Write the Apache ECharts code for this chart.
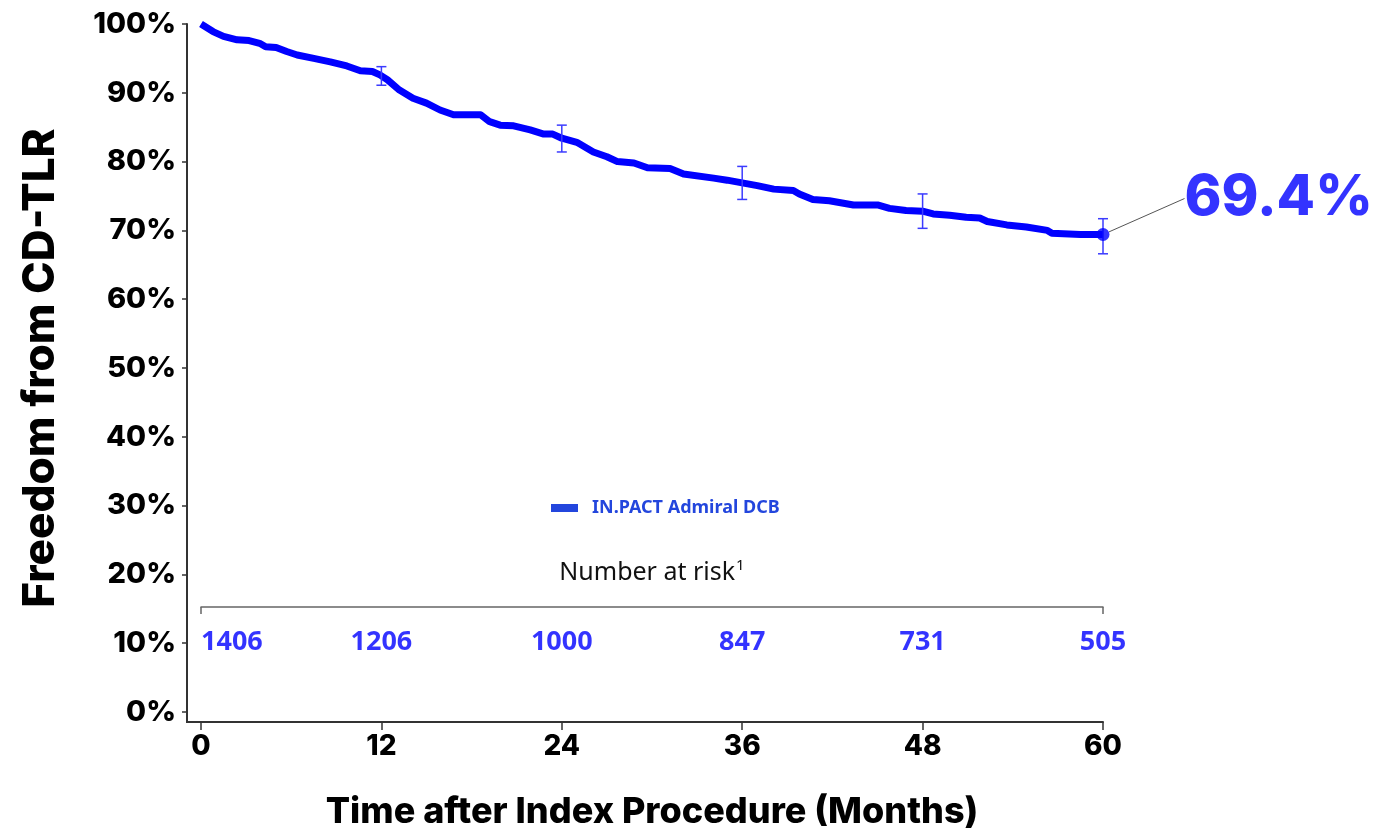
<!DOCTYPE html>
<html>
<head>
<meta charset="utf-8">
<title>Freedom from CD-TLR</title>
<script src="https://cdn.jsdelivr.net/npm/echarts@6/dist/echarts.min.js"></script>
<style>
  html, body { margin: 0; padding: 0; background: #ffffff; }
  #chart { width: 1379px; height: 832px; }
</style>
</head>
<body>
<div id="chart"></div>
<script>
// Kaplan-Meier estimate: months after procedure and freedom from CD-TLR (%)
const kmMonths = [0, 0.8, 1.5, 2.4, 3.2, 3.9, 4.3, 5.0, 5.7, 6.4, 7.5, 8.6, 9.7, 10.6, 11.4, 11.9,
  12.4, 13.2, 14.1, 15.0, 15.9, 16.8, 18.6, 19.2, 19.9, 20.8, 21.9, 22.8, 23.4, 24.0, 25.0, 26.1,
  27.0, 27.7, 28.8, 29.7, 31.2, 32.1, 34.1, 35.0, 36.0, 37.0, 38.1, 39.4, 39.8, 40.7, 41.8,
  43.4, 45.0, 45.8, 46.9, 48.0, 48.7, 49.8, 50.9, 51.8, 52.3, 53.6, 54.9, 56.3, 56.6, 58.5, 60];
const kmSurvival = [100, 98.9, 98.2, 97.7, 97.6, 97.2, 96.7, 96.6, 96.0, 95.5, 95.0, 94.5, 93.9, 93.2, 93.1, 92.6,
  91.9, 90.4, 89.2, 88.5, 87.5, 86.8, 86.8, 85.8, 85.3, 85.2, 84.6, 84.0, 84.0, 83.4, 82.8, 81.4,
  80.7, 80.0, 79.8, 79.1, 79.0, 78.2, 77.6, 77.3, 76.9, 76.5, 76.0, 75.8, 75.3, 74.5, 74.3,
  73.7, 73.7, 73.2, 72.9, 72.8, 72.4, 72.2, 71.9, 71.8, 71.3, 70.8, 70.5, 70.0, 69.6, 69.4, 69.4];

// 95% confidence interval at the yearly landmarks
const ciMonths = [12, 24, 36, 48, 60];
const ciLower = [91.1, 81.4, 74.5, 70.3, 66.6];
const ciUpper = [93.8, 85.3, 79.3, 75.3, 71.7];

// Five-year estimate
const finalMonth = 60;
const finalEstimate = 69.4;

// Number at risk
const riskMonths = [0, 12, 24, 36, 48, 60];
const riskCounts = [1406, 1206, 1000, 847, 731, 505];

const seriesName = 'IN.PACT Admiral DCB';
const blue = '#0000ff';
const axisColor = '#333333';
const titleFont = 'Inter, "DejaVu Sans", sans-serif';
const bodyFont = '"Noto Sans", "Open Sans", sans-serif';

const chart = echarts.init(document.getElementById('chart'), null, { renderer: 'canvas' });

const kmData = kmMonths.map((m, i) => [m, kmSurvival[i]]);
const ciData = ciMonths.map((m, i) => [m, ciLower[i], ciUpper[i]]);
const riskData = riskMonths.map((m, i) => ({
  value: [m, 0.5, riskCounts[i]],
  label: i === 0 ? { align: 'left' } : undefined
}));

const X_AXIS_OFFSET = 10;
const Y_AXIS_OFFSET = 14;

const option = {
  backgroundColor: '#ffffff',
  animation: false,
  legend: {
    data: [{ name: seriesName, itemStyle: { color: '#2346dd' } }],
    icon: 'rect',
    itemWidth: 27,
    itemHeight: 8,
    left: 551,
    top: 499,
    padding: 0,
    textStyle: {
      color: '#2346dd',
      fontFamily: bodyFont,
      fontWeight: 'bold',
      fontSize: 18,
      padding: [0, 0, 0, 9]
    }
  },
  grid: [
    { left: 201, right: 276, top: 24, bottom: 120, outerBoundsMode: 'none', containLabel: false },
    { left: 201, right: 276, top: 607, height: 70, outerBoundsMode: 'none', containLabel: false }
  ],
  xAxis: [
    {
      type: 'value',
      gridIndex: 0,
      min: 0,
      max: 60,
      interval: 12,
      offset: X_AXIS_OFFSET,
      axisLine: { show: true, onZero: false, lineStyle: { color: axisColor, width: 2 } },
      axisTick: { show: true, length: 8, lineStyle: { color: axisColor, width: 1.5 } },
      axisLabel: {
        margin: 11,
        color: '#000000',
        fontFamily: titleFont,
        fontWeight: 800,
        fontSize: 28
      },
      splitLine: { show: false },
      name: 'Time after Index Procedure (Months)',
      nameLocation: 'middle',
      nameGap: 72,
      nameTextStyle: {
        color: '#000000',
        fontFamily: titleFont,
        fontWeight: 800,
        fontSize: 36
      }
    },
    {
      type: 'value',
      gridIndex: 1,
      position: 'top',
      min: 0,
      max: 60,
      interval: 60,
      axisLine: { show: true, onZero: false, lineStyle: { color: '#666666', width: 1.5 } },
      axisTick: { show: true, inside: true, length: 7, lineStyle: { color: '#666666', width: 1.5 } },
      axisLabel: { show: false },
      splitLine: { show: false },
      name: 'Number at risk{sup|1}',
      nameLocation: 'middle',
      nameGap: 20,
      nameTextStyle: {
        color: '#111111',
        fontFamily: bodyFont,
        fontSize: 25,
        rich: {
          sup: { fontFamily: bodyFont, fontSize: 15, color: '#111111', verticalAlign: 'top', padding: [0, 0, 14, 1] }
        }
      }
    }
  ],
  yAxis: [
    {
      type: 'value',
      gridIndex: 0,
      min: 0,
      max: 100,
      interval: 10,
      offset: Y_AXIS_OFFSET,
      axisLine: { show: true, onZero: false, lineStyle: { color: axisColor, width: 2 } },
      axisTick: { show: true, length: 5, lineStyle: { color: axisColor, width: 1.5 } },
      axisLabel: {
        formatter: '{value}%',
        margin: 11,
        color: '#000000',
        fontFamily: titleFont,
        fontWeight: 800,
        fontSize: 29
      },
      splitLine: { show: false },
      name: 'Freedom from CD-TLR',
      nameLocation: 'middle',
      nameGap: 124,
      nameTextStyle: {
        color: '#000000',
        fontFamily: titleFont,
        fontWeight: 800,
        fontSize: 44
      }
    },
    { type: 'value', gridIndex: 1, min: 0, max: 1, show: false }
  ],
  series: [
    {
      name: seriesName,
      type: 'line',
      xAxisIndex: 0,
      yAxisIndex: 0,
      data: kmData,
      showSymbol: false,
      symbol: 'none',
      itemStyle: { color: blue },
      lineStyle: { color: blue, width: 7, cap: 'butt', join: 'round' },
      z: 3
    },
    {
      name: 'CI',
      type: 'custom',
      xAxisIndex: 0,
      yAxisIndex: 0,
      data: ciData,
      renderItem: function (params, api) {
        const x = api.coord([api.value(0), api.value(1)])[0];
        const yLo = api.coord([api.value(0), api.value(1)])[1];
        const yHi = api.coord([api.value(0), api.value(2)])[1];
        const half = 5;
        const style = { stroke: '#3b3bff', lineWidth: 1.5 };
        return {
          type: 'group',
          children: [
            { type: 'line', shape: { x1: x, y1: yLo, x2: x, y2: yHi }, style: style },
            { type: 'line', shape: { x1: x - half, y1: yLo, x2: x + half, y2: yLo }, style: style },
            { type: 'line', shape: { x1: x - half, y1: yHi, x2: x + half, y2: yHi }, style: style }
          ]
        };
      },
      z: 4
    },
    {
      name: 'Estimate',
      type: 'scatter',
      xAxisIndex: 0,
      yAxisIndex: 0,
      data: [[finalMonth, finalEstimate]],
      symbolSize: 13,
      itemStyle: { color: blue },
      label: {
        show: true,
        position: 'right',
        distance: 5,
        formatter: function (p) { return p.value[1].toFixed(1) + '%'; },
        color: blue,
        fontFamily: titleFont,
        fontWeight: 800,
        fontSize: 56
      },
      labelLayout: { dx: 70, dy: -36 },
      labelLine: { show: true, lineStyle: { color: '#555555', width: 1 } },
      z: 5
    },
    {
      name: 'At risk',
      type: 'scatter',
      xAxisIndex: 1,
      yAxisIndex: 1,
      data: riskData,
      symbolSize: 0,
      itemStyle: { color: 'rgba(0,0,0,0)' },
      label: {
        show: true,
        position: 'inside',
        formatter: function (p) { return String(p.value[2]); },
        color: blue,
        fontFamily: bodyFont,
        fontWeight: 'bold',
        fontSize: 27
      },
      silent: true,
      z: 5
    }
  ]
};

chart.setOption(option);

// Close the corner between the offset axes so they meet like a frame
const origin = chart.convertToPixel({ gridIndex: 0 }, [0, 0]);
const cornerX = origin[0] - Y_AXIS_OFFSET;
const cornerY = origin[1] + X_AXIS_OFFSET;
chart.setOption({
  graphic: [{
    type: 'polyline',
    silent: true,
    shape: { points: [[cornerX, origin[1]], [cornerX, cornerY], [origin[0], cornerY]] },
    style: { stroke: axisColor, lineWidth: 2, fill: null }
  }]
});
</script>
</body>
</html>
